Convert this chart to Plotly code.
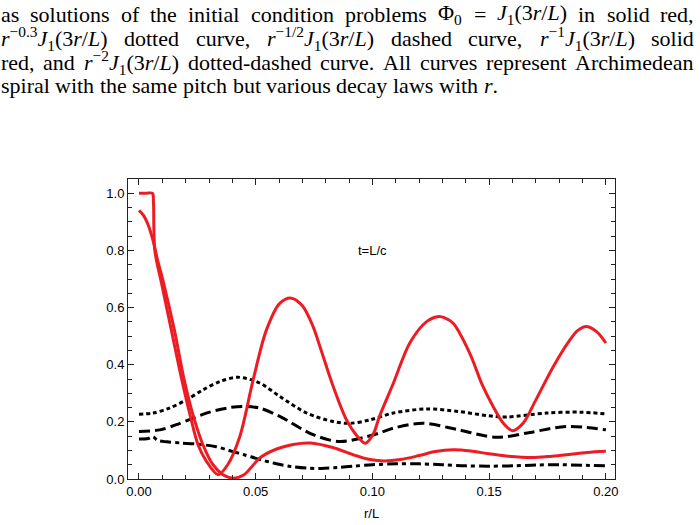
import re
import plotly.graph_objects as go

# ---- data ----
r_red_a = [0, 0.003, 0.0058, 0.0062, 0.0068, 0.0098, 0.0139, 0.018, 0.022, 0.0253, 0.0289, 0.0339,
           0.038, 0.0432, 0.0489, 0.0546, 0.0603, 0.0653, 0.0700, 0.0745, 0.0775, 0.0832, 0.0889,
           0.0935, 0.0970, 0.1005, 0.103, 0.109, 0.116, 0.1232, 0.1285, 0.131, 0.1346, 0.1417,
           0.147, 0.1517, 0.156, 0.160, 0.1646, 0.170, 0.1775, 0.1846, 0.188, 0.1915, 0.196, 0.200]
v_red_a = [1.0, 1.0, 1.0, 0.97, 0.80, 0.68, 0.52, 0.36, 0.22, 0.12, 0.062, 0.015,
           0.05, 0.149, 0.347, 0.522, 0.615, 0.633, 0.606, 0.535, 0.464, 0.324, 0.207,
           0.15, 0.125, 0.16, 0.219, 0.336, 0.476, 0.551, 0.569, 0.564, 0.545, 0.44,
           0.33, 0.254, 0.196, 0.169, 0.196, 0.277, 0.394, 0.487, 0.520, 0.534, 0.516, 0.476]

r_red_b = [0, 0.002, 0.004, 0.006, 0.008, 0.0102, 0.0152, 0.0193, 0.0233, 0.0274, 0.0317, 0.036,
           0.0405, 0.045, 0.052, 0.059, 0.066, 0.0735, 0.083, 0.0917, 0.099, 0.105, 0.112, 0.120,
           0.127, 0.1346, 0.142, 0.150, 0.158, 0.168, 0.176, 0.183, 0.192, 0.200]
v_red_b = [0.94, 0.922, 0.888, 0.835, 0.765, 0.697, 0.52, 0.35, 0.22, 0.12, 0.05, 0.015,
           0.003, 0.015, 0.075, 0.105, 0.121, 0.126, 0.110, 0.085, 0.068, 0.063, 0.068, 0.082,
           0.096, 0.102, 0.098, 0.088, 0.080, 0.075, 0.079, 0.085, 0.093, 0.097]

r_dotted = [0, 0.006, 0.013, 0.0203, 0.0274, 0.0346, 0.0425, 0.0517, 0.0603, 0.0718, 0.0832,
            0.0903, 0.099, 0.109, 0.123, 0.137, 0.150, 0.1575, 0.1746, 0.189, 0.200]
v_dotted = [0.227, 0.231, 0.248, 0.277, 0.312, 0.341, 0.356, 0.336, 0.289, 0.231, 0.201,
            0.195, 0.207, 0.231, 0.245, 0.236, 0.221, 0.217, 0.231, 0.234, 0.228]

r_dashed = [0, 0.0089, 0.016, 0.0231, 0.0303, 0.0389, 0.0445, 0.0517, 0.0603, 0.0746, 0.086,
            0.0975, 0.103, 0.109, 0.1217, 0.137, 0.153, 0.1675, 0.183, 0.200]
v_dashed = [0.166, 0.172, 0.19, 0.213, 0.234, 0.250, 0.254, 0.248, 0.219, 0.155, 0.131,
            0.148, 0.161, 0.178, 0.195, 0.172, 0.146, 0.163, 0.184, 0.172]

r_dotdash = [0, 0.004, 0.006, 0.008, 0.012, 0.018, 0.025, 0.033, 0.039, 0.045, 0.052, 0.058,
             0.065, 0.072, 0.078, 0.085, 0.092, 0.100, 0.110, 0.120, 0.130, 0.140, 0.150,
             0.160, 0.170, 0.180, 0.190, 0.200]
v_dotdash = [0.14, 0.142, 0.148, 0.135, 0.13, 0.126, 0.122, 0.113, 0.099, 0.085, 0.068, 0.055,
             0.044, 0.038, 0.037, 0.040, 0.045, 0.050, 0.053, 0.053, 0.050, 0.046, 0.045,
             0.046, 0.049, 0.050, 0.048, 0.046]

x_ticks = [0.0, 0.05, 0.10, 0.15, 0.20]
x_labels = ["0.00", "0.05", "0.10", "0.15", "0.20"]
y_ticks = [0.0, 0.2, 0.4, 0.6, 0.8, 1.0]
y_labels = ["0.0", "0.2", "0.4", "0.6", "0.8", "1.0"]

J = "<i>J</i><sub>1</sub>(3<i>r</i>/<i>L</i>)"
caption_words = [
    ["as", "solutions", "of", "the", "initial", "condition", "problems", "Φ<sub>0</sub>", "=",
     J, "in", "solid", "red,"],
    ["<i>r</i><sup>−0.3</sup>" + J, "dotted", "curve,", "<i>r</i><sup>−1/2</sup>" + J, "dashed",
     "curve,", "<i>r</i><sup>−1</sup>" + J, "solid"],
    ["red,", "and", "<i>r</i><sup>−2</sup>" + J, "dotted-dashed", "curve.", "All", "curves",
     "represent", "Archimedean"],
    ["spiral", "with", "the", "same", "pitch", "but", "various", "decay", "laws", "with", "<i>r</i>."],
]
caption_justified = [True, True, True, False]

# ---- approximate Times (Liberation Serif) advance widths, per 1000 em ----
TIMES = {' ': 250, '(': 333, ')': 333, ',': 250, '-': 333, '.': 250, '/': 278, '=': 564,
         '−': 564, 'Φ': 760, 'A': 722, 'J': 389, 'L': 611,
         'a': 444, 'b': 500, 'c': 444, 'd': 500, 'e': 444, 'f': 333, 'g': 500, 'h': 500, 'i': 278,
         'j': 278, 'k': 500, 'l': 278, 'm': 778, 'n': 500, 'o': 500, 'p': 500, 'q': 500, 'r': 333,
         's': 389, 't': 278, 'u': 500, 'v': 500, 'w': 722, 'x': 500, 'y': 500, 'z': 444}
ITAL = {'J': 444, 'L': 556, 'r': 389}


def text_width(html, size):
    italic, scale, w = False, 1.0, 0.0
    for tok in re.split(r'(<[^>]+>)', html):
        if tok.startswith('<'):
            closing = tok.startswith('</')
            tag = tok.strip('<>/ ').lower()
            if tag == 'i':
                italic = not closing
            elif tag in ('sub', 'sup'):
                scale = 1.0 if closing else 0.7
        else:
            for ch in tok:
                base = ITAL.get(ch) if (italic and ch in ITAL) else TIMES.get(ch, 500)
                w += base * scale
    return w * size / 1000.0


RED = "rgb(237,28,36)"
fig = go.Figure()
fig.add_trace(go.Scatter(x=r_dotted, y=v_dotted, mode="lines", line=dict(color="black", width=3, dash="4px,3px", shape="spline", smoothing=0.9)))
fig.add_trace(go.Scatter(x=r_dashed, y=v_dashed, mode="lines", line=dict(color="black", width=3, dash="11px,5px", shape="spline", smoothing=0.9)))
fig.add_trace(go.Scatter(x=r_dotdash, y=v_dotdash, mode="lines", line=dict(color="black", width=3, dash="11px,4px,4px,4px", shape="spline", smoothing=0.9)))
fig.add_trace(go.Scatter(x=r_red_b, y=v_red_b, mode="lines", line=dict(color=RED, width=3, shape="spline", smoothing=0.9)))
fig.add_trace(go.Scatter(x=r_red_a, y=v_red_a, mode="lines", line=dict(color=RED, width=3, shape="spline", smoothing=0.9)))

L, R, T, B = 128, 85, 179, 46
W, H = 700, 525
ph = H - T - B
pw = W - L - R

FS = 22
X0, X1 = 0.0, 693.0
annotations = []
for i, words in enumerate(caption_words):
    ypix = 14 + 24 * i
    widths = [text_width(w, FS) for w in words]
    if caption_justified[i]:
        gap = (X1 - X0 - sum(widths)) / (len(words) - 1)
    else:
        gap = text_width(' ', FS)
    x = X0
    for w, wd in zip(words, widths):
        annotations.append(dict(
            text=w, xref="paper", yref="paper",
            x=(x - L) / pw, y=(H - B - ypix) / ph,
            xanchor="left", yanchor="middle", showarrow=False, borderpad=0,
            font=dict(family="Liberation Serif", size=FS, color="black")))
        x += wd + gap

annotations.append(dict(text="t=L/c", x=0.1, y=0.8, xref="x", yref="y", showarrow=False,
                        font=dict(family="Liberation Sans", size=13, color="black")))
annotations.append(dict(text="r/L", xref="paper", yref="paper", x=0.5, y=-(513 - (H - B)) / ph,
                        xanchor="center", yanchor="middle", showarrow=False,
                        font=dict(family="Liberation Sans", size=13, color="black")))

axis_common = dict(showgrid=False, zeroline=False, showline=True, linecolor="#222", linewidth=1,
                   mirror="ticks", ticks="inside", ticklen=6, tickcolor="#222", tickwidth=1,
                   tickfont=dict(family="Liberation Sans", size=13, color="black"))

fig.update_layout(
    width=W, height=H, margin=dict(l=L, r=R, t=T, b=B),
    paper_bgcolor="white", plot_bgcolor="white", showlegend=False,
    xaxis=dict(range=[-0.0047, 0.2039], tickvals=x_ticks, ticktext=x_labels,
               minor=dict(dtick=0.01, tick0=0, ticks="inside", ticklen=4, tickcolor="#222"),
               **axis_common),
    yaxis=dict(range=[0, 1.05], tickvals=y_ticks, ticktext=y_labels,
               minor=dict(dtick=0.05, tick0=0, ticks="inside", ticklen=4, tickcolor="#222"),
               **axis_common),
    annotations=annotations,
)

fig.write_html("out.html")
